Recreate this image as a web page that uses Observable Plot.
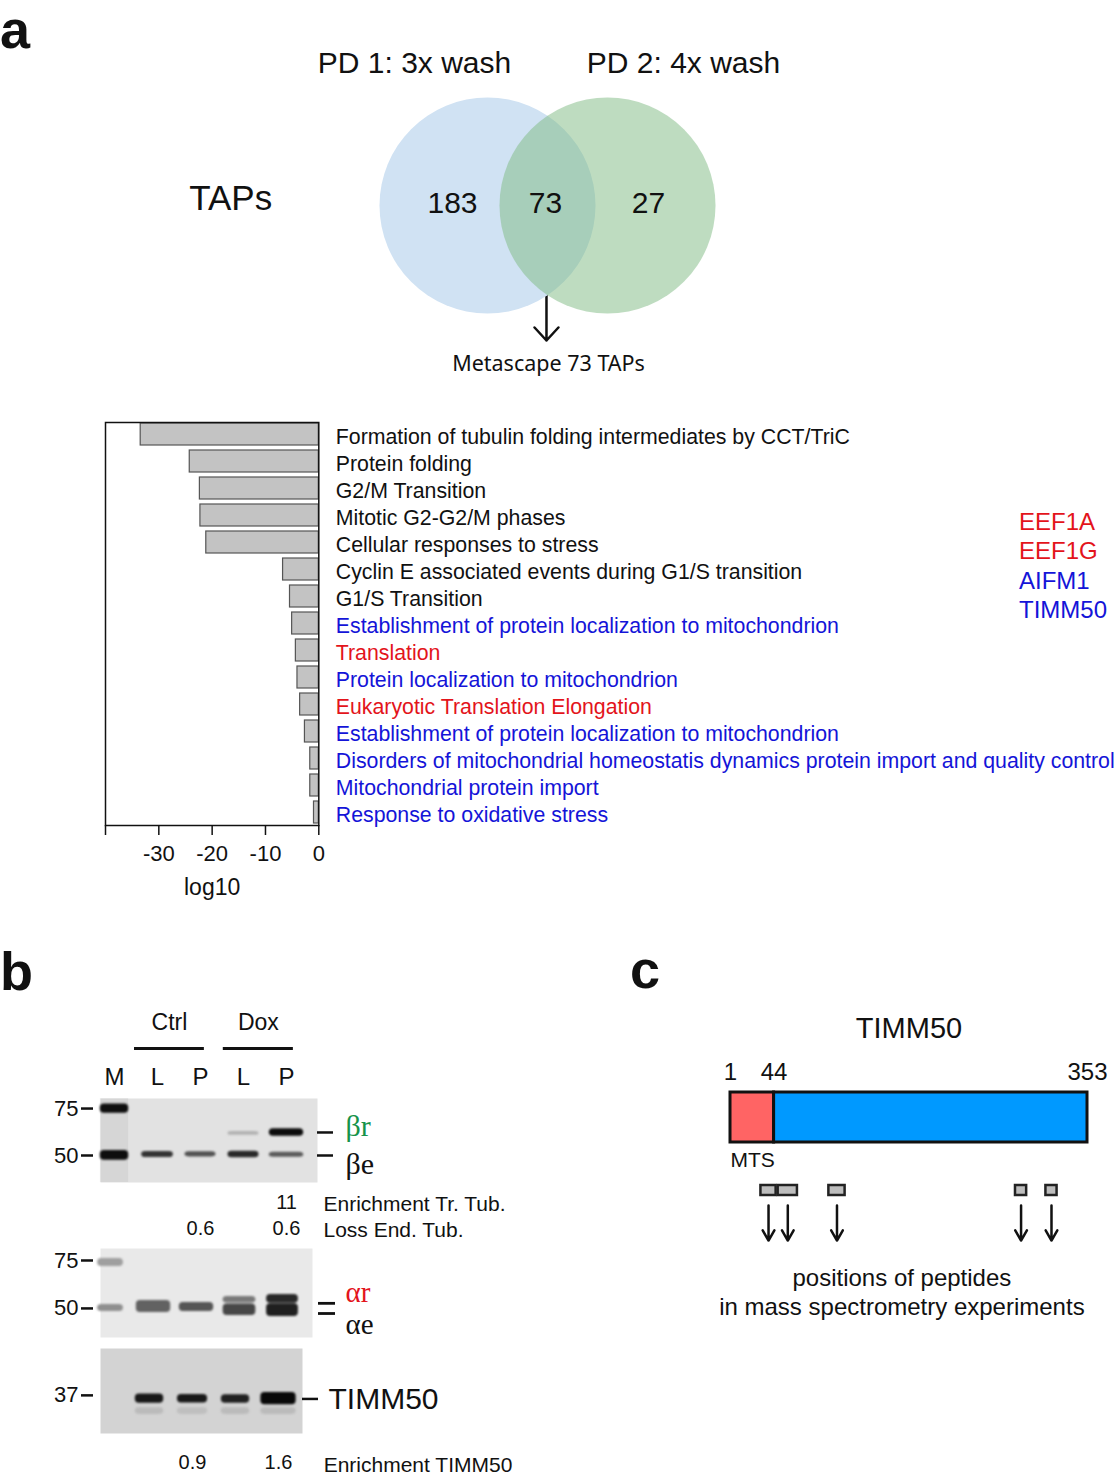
<!DOCTYPE html>
<html><head><meta charset="utf-8">
<script src="https://cdn.jsdelivr.net/npm/d3@7"></script>
<script src="https://cdn.jsdelivr.net/npm/@observablehq/plot@0.6"></script>
<style>
body{margin:0;background:#fff;}
#fig{position:relative;width:1116px;height:1480px;overflow:hidden;background:#fff;font-family:'Liberation Sans',Arial,Helvetica,sans-serif;color:#111;}
.lbl{position:absolute;font-weight:bold;font-size:54px;line-height:54px;}
.gene{position:absolute;font-size:24px;line-height:24px;white-space:nowrap;}
</style></head><body><div id="fig"></div>
<script>
// ---------------- DATA ----------------
// Panel a: Venn
const vennSets = ["PD 1: 3x wash", "PD 2: 4x wash"];
const vennOnly = [183, 27];
const vennShared = 73;
const vennLabel = "TAPs";
const vennNote = "Metascape 73 TAPs";

// Panel a: Metascape enrichment (log10 p)
const terms = [
  "Formation of tubulin folding intermediates by CCT/TriC",
  "Protein folding",
  "G2/M Transition",
  "Mitotic G2-G2/M phases",
  "Cellular responses to stress",
  "Cyclin E associated events during G1/S transition",
  "G1/S Transition",
  "Establishment of protein localization to mitochondrion",
  "Translation",
  "Protein localization to mitochondrion",
  "Eukaryotic Translation Elongation",
  "Establishment of protein localization to mitochondrion",
  "Disorders of mitochondrial homeostatis dynamics protein import and quality control",
  "Mitochondrial protein import",
  "Response to oxidative stress"
];
const log10Values = [-33.4, -24.2, -22.3, -22.2, -21.1, -6.7, -5.4, -5.0, -4.3, -4.0, -3.5, -2.6, -1.6, -1.6, -0.9];
const termGroup = ["other","other","other","other","other","other","other","mito","transl","mito","transl","mito","mito","mito","mito"];
const xTicks = [-40, -30, -20, -10, 0];
const xLabel = "log10";
const genes = ["EEF1A", "EEF1G", "AIFM1", "TIMM50"];
const geneGroup = ["transl", "transl", "mito", "mito"];

// Panel b: blots
const laneNames = ["M", "L", "P", "L", "P"];
const groupNames = ["Ctrl", "Dox"];
const blot1Ticks = [75, 50];
const blot1Bands = [ // lane, kDa range, intensity
  {lane: 0, lo: 72, hi: 78, v: 0.97},
  {lane: 0, lo: 48, hi: 52.2, v: 0.97},
  {lane: 1, lo: 49.1, hi: 51.8, v: 0.8},
  {lane: 2, lo: 49.4, hi: 51.6, v: 0.66},
  {lane: 3, lo: 49.0, hi: 51.9, v: 0.85},
  {lane: 3, lo: 59.5, hi: 61.5, v: 0.22},
  {lane: 4, lo: 59.0, hi: 63.0, v: 0.98},
  {lane: 4, lo: 49.2, hi: 51.4, v: 0.62}
];
const blot1Labels = [{text: "βr", kDa: 61, kind: "transgene"}, {text: "βe", kDa: 50, kind: "endo"}];
const enrichTrTub = [{lane: 4, value: "11"}];
const lossEndTub = [{lane: 2, value: "0.6"}, {lane: 4, value: "0.6"}];
const blot1Rows = ["Enrichment Tr. Tub.", "Loss End. Tub."];

const blot2Ticks = [75, 50];
const blot2Bands = [
  {lane: 0, lo: 71.3, hi: 76.3, v: 0.33},
  {lane: 0, lo: 48.7, hi: 51.7, v: 0.4},
  {lane: 1, lo: 48.3, hi: 53.5, v: 0.6},
  {lane: 2, lo: 48.7, hi: 52.6, v: 0.66},
  {lane: 3, lo: 52.4, hi: 55.3, v: 0.5},
  {lane: 3, lo: 47.1, hi: 51.9, v: 0.72},
  {lane: 4, lo: 52.2, hi: 56.3, v: 0.86},
  {lane: 4, lo: 46.7, hi: 52.0, v: 0.9}
];
const blot2Labels = [{text: "αr", kDa: 52.2, kind: "transgene"}, {text: "αe", kDa: 47.9, kind: "endo"}];

const blot3Ticks = [37];
const blot3Bands = [
  {lane: 1, lo: 34.6, hi: 37.4, v: 0.92},
  {lane: 2, lo: 34.7, hi: 37.3, v: 0.92},
  {lane: 3, lo: 34.6, hi: 37.2, v: 0.88},
  {lane: 4, lo: 34.2, hi: 37.9, v: 1.0},
  {lane: 1, lo: 31.5, hi: 33.3, v: 0.12},
  {lane: 2, lo: 31.5, hi: 33.3, v: 0.1},
  {lane: 3, lo: 31.5, hi: 33.3, v: 0.12},
  {lane: 4, lo: 31.5, hi: 33.3, v: 0.12}
];
const blot3Labels = [{text: "TIMM50", kDa: 35.9}];
const enrichTimm = [{lane: 2, value: "0.9"}, {lane: 4, value: "1.6"}];
const blot3Rows = ["Enrichment TIMM50"];

// Panel c: TIMM50 domain map
const proteinName = "TIMM50";
const proteinLength = 353;
const domains = [{name: "MTS", start: 1, end: 44}, {name: "mature", start: 44, end: 353}];
const residueLabels = [1, 44, 353];
const peptides = [{start: 31, end: 46}, {start: 48, end: 67}, {start: 98, end: 114}, {start: 282, end: 293}, {start: 312, end: 323}];
const peptideNote = ["positions of peptides", "in mass spectrometry experiments"];

// ---------------- STYLE / LAYOUT ----------------
const FONT = "'Liberation Sans', Arial, Helvetica, sans-serif";
const SERIF = "'Liberation Serif', 'Times New Roman', serif";
const groupColor = {other: "#111", mito: "#1414d8", transl: "#e3141b"};
const fig = document.getElementById("fig");
function place(node, left, top) {
  node.style.position = "absolute";
  node.style.left = left + "px";
  node.style.top = top + "px";
  fig.appendChild(node);
}
const baseStyle = {fontFamily: FONT, background: "transparent", overflow: "visible", color: "#111"};
const MID = {lineAnchor: "middle", fill: "#111"};

// ---- Venn ----
{
  const U = 60, W = 1116, H = 400, cx = 547, cy = 205;
  const circles = [{x: -1, y: 0, fill: "rgb(208,226,243)", op: 1}, {x: 1, y: 0, fill: "rgb(125,185,129)", op: 0.5}];
  const countPos = [{x: -1.583, y: 0.033, v: vennOnly[0]}, {x: -0.033, y: 0.033, v: vennShared}, {x: 1.683, y: 0.033, v: vennOnly[1]}];
  const titlePos = [{x: -2.217, y: 2.367, t: vennSets[0]}, {x: 2.267, y: 2.367, t: vennSets[1]}];
  const venn = Plot.plot({
    width: W, height: H, margin: 0,
    x: {domain: [-cx / U, (W - cx) / U], axis: null},
    y: {domain: [-(H - cy) / U, cy / U], axis: null},
    style: baseStyle,
    marks: [
      // arrow starts inside the overlap (hidden by the opaque circle) so its head can be full size
      Plot.arrow([0], {x: -0.017, y1: -0.8, y2: -2.25, headLength: 10.6, headAngle: 85, strokeWidth: 2.5, stroke: "#111"}),
      Plot.dot(circles, {x: "x", y: "y", r: 108, fill: "fill", fillOpacity: "op", stroke: "none"}),
      Plot.text(countPos, {x: "x", y: "y", text: d => String(d.v), fontSize: 30, fill: "#111"}),
      Plot.text(titlePos, {x: "x", y: "y", text: "t", fontSize: 30, fill: "#111"}),
      Plot.text([vennLabel], {x: -5.28, y: 0.117, fontSize: 35, fill: "#111"}),
      Plot.text([vennNote], {x: 0.017, y: -2.65, fontSize: 21.5, fontFamily: "'Noto Sans', 'Open Sans', sans-serif", fill: "#111"})
    ]
  });
  place(venn, 0, 0);
}

// ---- Bar chart ----
{
  const rows = terms.map((t, i) => ({i, term: t, value: log10Values[i], group: termGroup[i]}));
  const bars = Plot.plot({
    width: 1116, height: 505,
    marginLeft: 105, marginRight: 797.7, marginTop: 12, marginBottom: 90,
    x: {domain: [-40, 0]},
    y: {type: "band", domain: rows.map(d => d.i), paddingInner: 0.18, paddingOuter: 0.04, axis: null},
    style: baseStyle,
    marks: [
      Plot.barX(rows, {x: "value", y: "i", fill: "#c3c3c3", stroke: "#555", strokeWidth: 1.2}),
      Plot.frame({stroke: "#111", strokeWidth: 1.5}),
      Plot.text(rows, {x: 0, y: "i", text: "term", dx: 17, dy: 3, textAnchor: "start", fontSize: 21.3, fill: d => groupColor[d.group]}),
      Plot.axisX({ticks: xTicks, tickSize: 10, tickPadding: 10, fontSize: 22, strokeWidth: 1.5, tickFormat: d => d === -40 ? "" : String(d), label: null, fill: "#111"}),
      Plot.text([xLabel], {x: -20, frameAnchor: "bottom", dy: 62, fontSize: 23, ...MID})
    ]
  });
  place(bars, 0, 410);
  genes.forEach((g, i) => {
    const el = document.createElement("div");
    el.className = "gene";
    el.textContent = g;
    el.style.color = groupColor[geneGroup[i]];
    el.style.left = "1019px";
    el.style.top = (510 + i * 29.3) + "px";
    fig.appendChild(el);
  });
}

// ---- Blots ----
function grayFor(bg, v) { return d3.interpolateRgb(bg, "#080808")(v); }
function blot({height, marginTop, marginBottom, right, xDomain, yDomain, ticks, bg, bands, halfW, extra}) {
  const W = 560;
  return Plot.plot({
    width: W, height, marginLeft: 100, marginRight: W - right, marginTop, marginBottom,
    x: {domain: xDomain, axis: null},
    y: {type: "log", domain: yDomain, axis: null},
    style: baseStyle,
    marks: [
      Plot.frame({fill: bg, stroke: "none"}),
      Plot.rect(bands, {x1: d => d.lane - halfW[d.lane], x2: d => d.lane + halfW[d.lane], y1: "lo", y2: "hi",
        fill: d => grayFor(bg, d.v), rx: 4, imageFilter: "blur(1.2px)"}),
      Plot.axisY({ticks, tickSize: 12, dx: -7, tickPadding: 3, fontSize: 22, strokeWidth: 2.5, tickFormat: d => String(d), label: null, fill: "#111"}),
      ...extra
    ]
  });
}
// blot 1
{
  const xD = [-0.326, 4.721], yD = [39.6, 81.8];
  const groupPos = [{from: 0.465, to: 2.09}, {from: 2.53, to: 4.16}].map((g, i) => ({...g, name: groupNames[i]}));
  const endo = blot1Labels.filter(d => d.kind === "endo"), tr = blot1Labels.filter(d => d.kind !== "endo");
  const b1 = blot({
    height: 260, marginTop: 108, marginBottom: 68, right: 317, xDomain: xD, yDomain: yD,
    ticks: blot1Ticks, bg: "#e2e2e2", bands: blot1Bands, halfW: [0.33, 0.37, 0.36, 0.36, 0.4],
    extra: [
      Plot.rect([0], {x1: -0.33, x2: 0.33, y1: yD[0], y2: yD[1], fill: "#000", fillOpacity: 0.05}),
      Plot.ruleY(groupPos, {y: yD[1], x1: "from", x2: "to", dy: -50, strokeWidth: 3, stroke: "#111"}),
      Plot.text(groupPos, {x: d => (d.from + d.to) / 2, frameAnchor: "top", dy: -76, text: "name", fontSize: 23, ...MID}),
      Plot.text(laneNames, {x: (d, i) => i, frameAnchor: "top", dy: -21, text: d => d, fontSize: 24, ...MID}),
      Plot.ruleY(blot1Labels, {y: "kDa", x1: 4.721, x2: 5.093, strokeWidth: 2.5, stroke: "#111"}),
      Plot.text(tr, {y: "kDa", x: 5.372, text: "text", textAnchor: "start", dy: -6, fontSize: 30, fontFamily: SERIF, fill: "#16934a"}),
      Plot.text(endo, {y: "kDa", x: 5.372, text: "text", textAnchor: "start", dy: 9, fontSize: 30, fontFamily: SERIF, fill: "#111"}),
      Plot.text(enrichTrTub, {x: "lane", frameAnchor: "bottom", dy: 20, text: "value", fontSize: 20, ...MID}),
      Plot.text(lossEndTub, {x: "lane", frameAnchor: "bottom", dy: 46, text: "value", fontSize: 20, ...MID}),
      Plot.text([blot1Rows[0]], {x: 4.86, frameAnchor: "bottom", dy: 22, textAnchor: "start", fontSize: 21, ...MID}),
      Plot.text([blot1Rows[1]], {x: 4.86, frameAnchor: "bottom", dy: 48, textAnchor: "start", fontSize: 21, ...MID})
    ]
  });
  place(b1, 0, 990);
}
// blot 2
{
  const xD = [-0.233, 4.698], yD = [39.1, 83.0];
  const endo = blot2Labels.filter(d => d.kind === "endo"), tr = blot2Labels.filter(d => d.kind !== "endo");
  const b2 = blot({
    height: 105, marginTop: 8, marginBottom: 8, right: 312, xDomain: xD, yDomain: yD,
    ticks: blot2Ticks, bg: "#e9e9e9", bands: blot2Bands, halfW: [0.3, 0.4, 0.4, 0.38, 0.37],
    extra: [
      Plot.ruleY(blot2Labels, {y: "kDa", x1: 4.837, x2: 5.233, strokeWidth: 2.8, stroke: "#111"}),
      Plot.text(tr, {y: "kDa", x: 5.465, text: "text", textAnchor: "start", dy: -11, fontSize: 29, fontFamily: SERIF, fill: "#e3141b"}),
      Plot.text(endo, {y: "kDa", x: 5.465, text: "text", textAnchor: "start", dy: 11, fontSize: 29, fontFamily: SERIF, fill: "#111"})
    ]
  });
  place(b2, 0, 1240);
}
// blot 3
{
  const xD = [-0.14, 4.558], yD = [26.8, 55.0];
  const b3 = blot({
    height: 140, marginTop: 8, marginBottom: 47, right: 302, xDomain: xD, yDomain: yD,
    ticks: blot3Ticks, bg: "#d3d3d3", bands: blot3Bands, halfW: [0.3, 0.33, 0.35, 0.33, 0.41],
    extra: [
      Plot.ruleY(blot3Labels, {y: "kDa", x1: 4.558, x2: 4.93, strokeWidth: 2.5, stroke: "#111"}),
      Plot.text(blot3Labels, {y: "kDa", x: 5.163, text: "text", textAnchor: "start", fontSize: 30, fill: "#111"}),
      Plot.text(enrichTimm, {x: "lane", frameAnchor: "bottom", dy: 29, text: "value", fontSize: 20, ...MID}),
      Plot.text(blot3Rows, {x: 5.05, frameAnchor: "bottom", dy: 32, text: d => d, textAnchor: "start", fontSize: 21, ...MID})
    ]
  });
  place(b3, 0, 1340);
}

// ---- Panel c ----
{
  const domColor = {MTS: "#ff6464", mature: "#0099ff"};
  const pc = Plot.plot({
    width: 416, height: 345, marginLeft: 30, marginRight: 29, marginTop: 102, marginBottom: 193,
    x: {domain: [1, proteinLength], axis: null},
    y: {domain: [0, 1], axis: null},
    style: baseStyle,
    marks: [
      Plot.rect(domains, {x1: "start", x2: "end", y1: 0, y2: 1, fill: d => domColor[d.name], stroke: "#111", strokeWidth: 3}),
      Plot.text(residueLabels, {x: d => d, y: 1, dy: -20, text: d => String(d), fontSize: 24, fill: "#111"}),
      Plot.text(domains.filter(d => d.name === "MTS"), {x: "start", y: 0, dy: 18, text: "name", textAnchor: "start", fontSize: 21, fill: "#111"}),
      Plot.rect(peptides, {x1: "start", x2: "end", y1: -1.06, y2: -0.86, fill: "#bdbdbd", stroke: "#222", strokeWidth: 2.5}),
      Plot.arrow(peptides, {x: d => (d.start + d.end) / 2, y1: -1.26, y2: -1.96, headLength: 12, headAngle: 60, strokeWidth: 2.5, stroke: "#111"}),
      Plot.text([proteinName], {frameAnchor: "top", dy: -64, fontSize: 29, ...MID}),
      Plot.text([peptideNote[0]], {x: 170, frameAnchor: "bottom", dy: 136, fontSize: 24, ...MID}),
      Plot.text([peptideNote[1]], {x: 170, frameAnchor: "bottom", dy: 165, fontSize: 24, ...MID})
    ]
  });
  place(pc, 700, 990);
}

// ---- Panel letters ----
[["a", 0, 2], ["b", 0, 944], ["c", 630, 942]].forEach(([t, l, tp]) => {
  const el = document.createElement("div");
  el.className = "lbl"; el.textContent = t;
  el.style.left = l + "px"; el.style.top = tp + "px";
  fig.appendChild(el);
});
</script></body></html>
